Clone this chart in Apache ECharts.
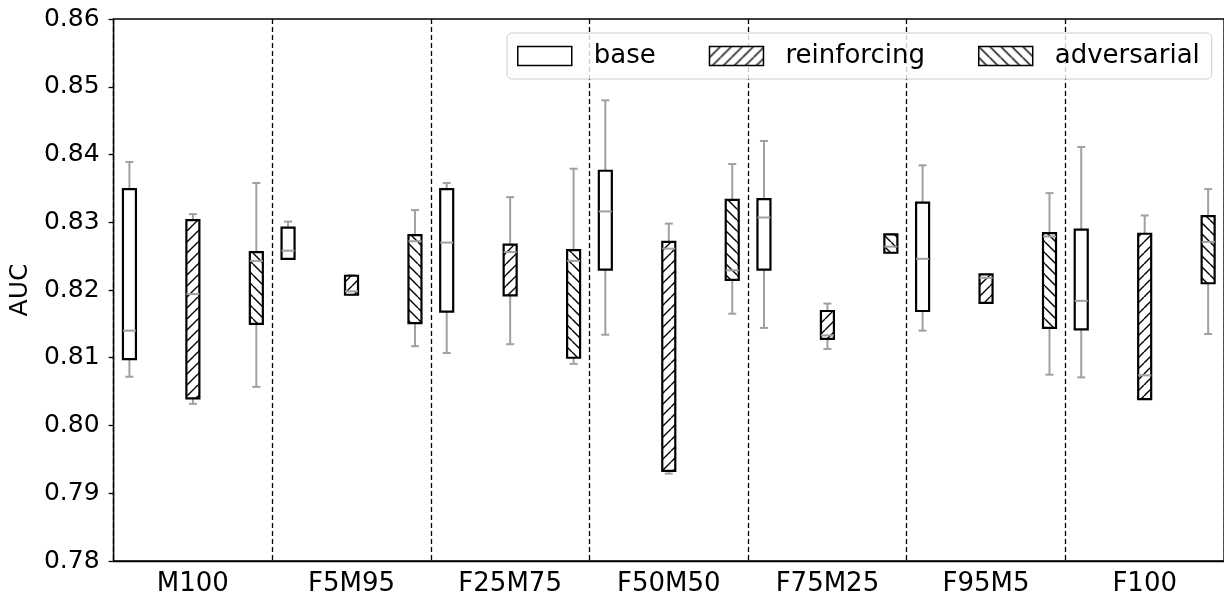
<!DOCTYPE html>
<html>
<head>
<meta charset="utf-8">
<script src="https://cdn.jsdelivr.net/npm/echarts@6/dist/echarts.min.js"></script>
<style>
  html, body { margin: 0; padding: 0; background: #fff; }
  #chart { width: 1224px; height: 602px; }
</style>
</head>
<body>
<div id="chart"></div>
<script>
// 分组
const categories = ["M100", "F5M95", "F25M75", "F50M50", "F75M25", "F95M5", "F100"];
// each row: [low whisker, q1, median, q3, high whisker]
const baseStats = [
  [0.8072, 0.8098, 0.8140, 0.8349, 0.8389],
  [0.8246, 0.8246, 0.8258, 0.8292, 0.8301],
  [0.8107, 0.8168, 0.8270, 0.8349, 0.8358],
  [0.8134, 0.8230, 0.8316, 0.8376, 0.8480],
  [0.8144, 0.8230, 0.8307, 0.8334, 0.8420],
  [0.8140, 0.8169, 0.8246, 0.8329, 0.8384],
  [0.8071, 0.8142, 0.8184, 0.8289, 0.8411],
];
const reinforcingStats = [
  [0.8032, 0.8040, 0.8194, 0.8303, 0.8312],
  [0.8193, 0.8193, 0.8198, 0.8221, 0.8222],
  [0.8120, 0.8192, 0.8256, 0.8267, 0.8337],
  [0.7929, 0.7933, 0.8261, 0.8271, 0.8298],
  [0.8113, 0.8128, 0.8133, 0.8169, 0.8180],
  [0.8181, 0.8181, 0.8218, 0.8223, 0.8223],
  [0.8039, 0.8039, 0.8074, 0.8283, 0.8310],
];
const adversarialStats = [
  [0.8057, 0.8150, 0.8243, 0.8256, 0.8358],
  [0.8117, 0.8151, 0.8272, 0.8281, 0.8318],
  [0.8091, 0.8100, 0.8243, 0.8259, 0.8379],
  [0.8165, 0.8215, 0.8229, 0.8333, 0.8386],
  [0.8255, 0.8255, 0.8264, 0.8282, 0.8282],
  [0.8075, 0.8144, 0.8279, 0.8284, 0.8343],
  [0.8135, 0.8210, 0.8271, 0.8309, 0.8349],
];
const yTicks = [0.78, 0.79, 0.80, 0.81, 0.82, 0.83, 0.84, 0.85, 0.86];

const FONT = "DejaVu Sans";
const GREY = "#a0a0a0";

// 斜线填充
function makeHatch(dir) {
  const s = 11;
  const c = document.createElement("canvas");
  c.width = s;
  c.height = s;
  const g = c.getContext("2d");
  g.fillStyle = "#fff";
  g.fillRect(0, 0, s, s);
  g.strokeStyle = "#000";
  g.lineWidth = 1.4;
  g.beginPath();
  for (const o of [-s, 0, s]) {
    if (dir > 0) {
      g.moveTo(o, s);
      g.lineTo(o + s, 0);
    } else {
      g.moveTo(o, 0);
      g.lineTo(o + s, s);
    }
  }
  g.stroke();
  return { image: c, repeat: "repeat" };
}

const fills = {
  base: "#ffffff",
  reinforcing: makeHatch(1),
  adversarial: makeHatch(-1),
};

const toData = (stats) => stats.map((s, i) => [i].concat(s));

const makeRender = (offset, fill) => (params, api) => {
  const ci = api.value(0);
  const bw = api.size([1, 0])[0];
  const cx = api.coord([ci, 0])[0] + offset * bw;
  const y = [1, 2, 3, 4, 5].map((k) => api.coord([ci, api.value(k)])[1]);
  const half = 6.5;
  const cap = 4;
  const grey = { stroke: GREY, lineWidth: 2, fill: null };
  return {
    type: "group",
    children: [
      { type: "line", shape: { x1: cx, y1: y[0], x2: cx, y2: y[1] }, style: grey },
      { type: "line", shape: { x1: cx, y1: y[3], x2: cx, y2: y[4] }, style: grey },
      { type: "line", shape: { x1: cx - cap, y1: y[0], x2: cx + cap, y2: y[0] }, style: grey },
      { type: "line", shape: { x1: cx - cap, y1: y[4], x2: cx + cap, y2: y[4] }, style: grey },
      {
        type: "rect",
        shape: { x: cx - half, y: y[3], width: half * 2, height: y[1] - y[3] },
        style: { fill: fill, stroke: "#000", lineWidth: 2.2 },
      },
      { type: "line", shape: { x1: cx - half, y1: y[2], x2: cx + half, y2: y[2] }, style: grey },
    ],
  };
};

const seriesDefs = [
  { name: "base", stats: baseStats, offset: -0.4 },
  { name: "reinforcing", stats: reinforcingStats, offset: 0 },
  { name: "adversarial", stats: adversarialStats, offset: 0.4 },
];

const option = {
  animation: false,
  textStyle: { fontFamily: FONT },
  grid: {
    left: 113,
    top: 19,
    right: -4,
    bottom: 41,
    show: true,
    borderColor: "#000",
    borderWidth: 1.3,
    backgroundColor: "transparent",
  },
  legend: {
    left: 507,
    top: 33,
    selectedMode: false,
    icon: "rect",
    itemWidth: 54,
    itemHeight: 19,
    itemGap: 53,
    padding: [9, 12, 9, 10],
    borderColor: "#cccccc",
    borderWidth: 1,
    borderRadius: 5,
    backgroundColor: "rgba(255,255,255,0.8)",
    textStyle: { fontSize: 26, color: "#000", fontFamily: FONT, padding: [0, 0, 0, 17], lineHeight: 28 },
    data: seriesDefs.map((d) => ({
      name: d.name,
      itemStyle: { color: fills[d.name], borderColor: "#000", borderWidth: 1.5 },
    })),
  },
  xAxis: {
    type: "category",
    data: categories,
    boundaryGap: true,
    axisLine: { lineStyle: { color: "#000", width: 1.3 } },
    axisTick: { show: false },
    axisLabel: { color: "#000", fontSize: 26, fontFamily: FONT, margin: 10, interval: 0 },
    splitLine: { show: true, interval: 0, lineStyle: { color: "#000", width: 1.3, type: [5, 3] } },
  },
  yAxis: {
    type: "value",
    min: yTicks[0],
    max: yTicks[yTicks.length - 1],
    interval: 0.01,
    name: "AUC",
    nameLocation: "middle",
    nameGap: 78,
    nameTextStyle: { color: "#000", fontSize: 25, fontFamily: FONT },
    axisLine: { show: true, lineStyle: { color: "#000", width: 1.3 } },
    axisTick: { show: true, length: 5, lineStyle: { color: "#000", width: 1.3 } },
    axisLabel: {
      color: "#000",
      fontSize: 25,
      fontFamily: FONT,
      margin: 14,
      formatter: (v) => v.toFixed(2),
    },
    splitLine: { show: false },
  },
  series: seriesDefs.map((d) => ({
    name: d.name,
    type: "custom",
    itemStyle: { color: fills[d.name], borderColor: "#000", borderWidth: 1.5 },
    encode: { x: 0, y: [1, 2, 3, 4, 5] },
    data: toData(d.stats),
    renderItem: makeRender(d.offset, fills[d.name]),
  })),
};

const chart = echarts.init(document.getElementById("chart"));
chart.setOption(option);
window.onresize = () => chart.resize();
</script>
</body>
</html>
